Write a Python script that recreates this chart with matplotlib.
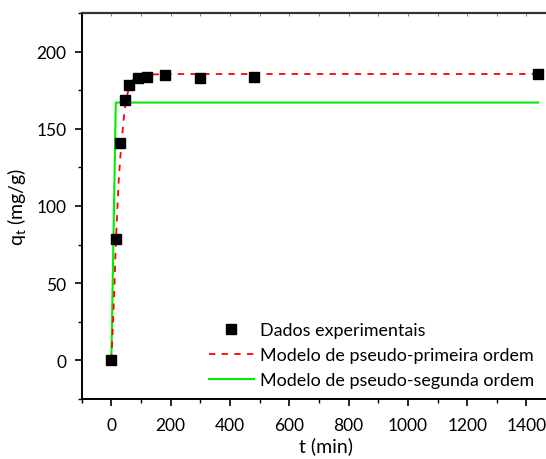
import matplotlib
matplotlib.use("Agg")
import matplotlib.pyplot as plt
from matplotlib.ticker import MultipleLocator

plt.rcParams['font.family'] = ['Lato', 'DejaVu Sans']
plt.rcParams['mathtext.default'] = 'regular'

# Experimental data
t_exp = [0, 15, 30, 45, 60, 90, 120, 180, 300, 480, 1440]
q_exp = [0, 78.6, 140.6, 168.7, 178.2, 182.7, 183.5, 184.8, 183.2, 183.3, 185.2]

# Pseudo-first order model curve
t_pfo = [0, 5, 10, 15, 20, 25, 30, 35, 40, 45, 50, 60, 70, 80, 90, 120, 180, 300, 480, 1440]
q_pfo = [0, 22, 47, 75, 97, 117, 131, 143, 153, 162, 169, 177, 181, 183, 184, 185, 185.5, 185.5, 185.5, 185.5]

# Pseudo-second order model
t_pso = [0, 15, 30, 45, 60, 90, 120, 180, 300, 480, 1440]
q_pso = [0, 167, 167, 167, 167, 167, 167, 167, 167, 167, 167]

labels = ["Dados experimentais", "Modelo de pseudo-primeira ordem",
          "Modelo de pseudo-segunda ordem"]

W, H = 546, 460
fig = plt.figure(figsize=(W / 100, H / 100), dpi=100)
xmin, xmax = -100, 1550
ymin, ymax = -25, 225
px_per_x = 0.2965
left_px = 81.7
width_px = (xmax - xmin) * px_per_x
top_px, bottom_px = 14, 400
ax = fig.add_axes([left_px / W, 1 - bottom_px / H, width_px / W, (bottom_px - top_px) / H])

ax.plot(t_exp, q_exp, 's', color='black', markersize=7, label=labels[0], zorder=3)
ax.plot(t_pfo, q_pfo, '--', color='#ff0000', lw=1.3, dashes=(3.5, 3.5), label=labels[1], zorder=2)
ax.plot(t_pso, q_pso, '-', color='#00ee00', lw=1.5, label=labels[2], zorder=1)

ax.set_xlim(xmin, xmax)
ax.set_ylim(ymin, ymax)
ax.xaxis.set_major_locator(MultipleLocator(200))
ax.xaxis.set_minor_locator(MultipleLocator(100))
ax.yaxis.set_major_locator(MultipleLocator(50))
ax.yaxis.set_minor_locator(MultipleLocator(25))
ax.tick_params(which='major', direction='out', length=5, width=1.2, labelsize=12.5)
ax.tick_params(axis='x', which='major', pad=8)
ax.tick_params(axis='y', which='major', pad=6)
ax.tick_params(which='minor', direction='out', length=3, width=1.0)
ax.tick_params(top=False, right=False)

for s in ['left', 'bottom']:
    ax.spines[s].set_linewidth(1.4)
ax.spines['top'].set_linewidth(1.6)
ax.spines['top'].set_color('#333333')
ax.spines['right'].set_visible(False)

sec = ax.secondary_xaxis('top')
sec.xaxis.set_major_locator(MultipleLocator(100))
sec.tick_params(direction='in', length=2, width=0.8, colors='#888888', labeltop=False)
sec.spines['top'].set_visible(False)

ax.set_xlabel("t (min)", fontsize=14, labelpad=2)
ax.set_ylabel("q$_{\\mathregular{t}}$ (mg/g)", fontsize=14, labelpad=6)

leg = fig.legend(loc='upper left', bbox_to_anchor=(209 / W, 1 - 323 / H),
                 bbox_transform=fig.transFigure, frameon=False, fontsize=12.9,
                 handlelength=2.5, handletextpad=0.37, labelspacing=0.5,
                 borderpad=0, borderaxespad=0, markerscale=0.95)

fig.savefig("out.png", dpi=100)
